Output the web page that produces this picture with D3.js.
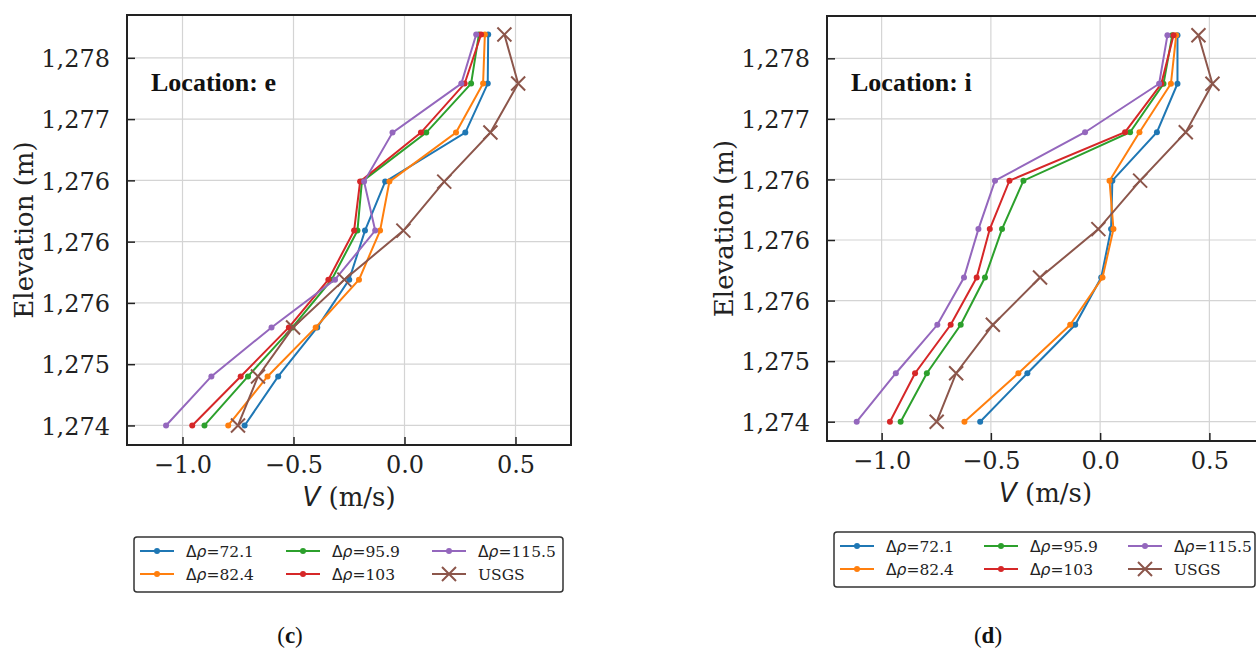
<!DOCTYPE html>
<html>
<head>
<meta charset="utf-8">
<script src="https://cdn.jsdelivr.net/npm/d3@7"></script>
<style>
  body { margin: 0; background: #fff; }
  svg { display: block; }
</style>
</head>
<body>
<script>
var width = 1256;
var height = 650;

// elevation of the sampled points (m), bottom to top
var elevations = [1274.5, 1274.9, 1275.3, 1275.69, 1276.09, 1276.49, 1276.89, 1277.29, 1277.69];

var seriesNames = ["72.1", "82.4", "95.9", "103", "115.5"];
var colors = ["#1f77b4", "#ff7f0e", "#2ca02c", "#d62728", "#9467bd"];
var usgsColor = "#8c564b";

// location e, V (m/s)
var e_dp721  = [-0.720, -0.569, -0.393, -0.249, -0.178, -0.087, 0.274, 0.375, 0.377];
var e_dp824  = [-0.794, -0.617, -0.400, -0.205, -0.110, -0.068, 0.232, 0.354, 0.362];
var e_dp959  = [-0.901, -0.705, -0.505, -0.328, -0.212, -0.192, 0.098, 0.300, 0.335];
var e_dp103  = [-0.956, -0.738, -0.521, -0.343, -0.227, -0.200, 0.074, 0.271, 0.345];
var e_dp1155 = [-1.074, -0.870, -0.599, -0.313, -0.132, -0.182, -0.054, 0.256, 0.323];
var e_usgs   = [-0.750, -0.660, -0.502, -0.271, -0.005, 0.179, 0.387, 0.512, 0.450];

// location i, V (m/s)
var i_dp721  = [-0.549, -0.333, -0.114, 0.005, 0.050, 0.056, 0.260, 0.354, 0.354];
var i_dp824  = [-0.621, -0.374, -0.137, 0.011, 0.061, 0.043, 0.180, 0.324, 0.348];
var i_dp959  = [-0.913, -0.793, -0.638, -0.527, -0.449, -0.351, 0.137, 0.290, 0.330];
var i_dp103  = [-0.962, -0.847, -0.684, -0.565, -0.505, -0.415, 0.114, 0.280, 0.336];
var i_dp1155 = [-1.114, -0.935, -0.745, -0.623, -0.557, -0.481, -0.069, 0.270, 0.308];
var i_usgs   = [-0.748, -0.659, -0.491, -0.275, -0.008, 0.183, 0.392, 0.514, 0.450];

var xTicks = [-1.0, -0.5, 0.0, 0.5];
var xTickLabels = ["\u22121.0", "\u22120.5", "0.0", "0.5"];
var yTicks = [1274.5, 1275.0, 1275.5, 1276.0, 1276.5, 1277.0, 1277.5];
var yTickLabels = ["1,274", "1,275", "1,276", "1,276", "1,276", "1,277", "1,278"];

var panels = [
  { caption: "c", location: "e", series: [e_dp721, e_dp824, e_dp959, e_dp103, e_dp1155], usgs: e_usgs,
    left: 127, top: 15, right: 571, bottom: 445,
    legend: { x: 134, y: 537, w: 429, h: 55, col: 146 }, capX: 290 },
  { caption: "d", location: "i", series: [i_dp721, i_dp824, i_dp959, i_dp103, i_dp1155], usgs: i_usgs,
    left: 827, top: 16, right: 1264, bottom: 441,
    legend: { x: 834, y: 532, w: 421, h: 55, col: 144 }, capX: 988 }
];

var serif = "'DejaVu Serif', serif";
var sans = "'DejaVu Sans', sans-serif";
var times = "'Liberation Serif', 'Times New Roman', serif";

var svg = d3.select("body")
  .append("svg")
  .attr("width", width)
  .attr("height", height);

var ext = d3.extent(elevations);
var pad = (ext[1] - ext[0]) * 0.05;

function xMark(g, x, y, s) {
  g.append("path")
    .attr("d", "M" + (x - s) + "," + (y - s) + "L" + (x + s) + "," + (y + s) +
               "M" + (x - s) + "," + (y + s) + "L" + (x + s) + "," + (y - s))
    .attr("stroke", usgsColor)
    .attr("stroke-width", 2)
    .attr("fill", "none");
}

panels.forEach(function(p) {
  var x = d3.scaleLinear().domain([-1.25, 0.75]).range([p.left, p.right]);
  var y = d3.scaleLinear().domain([ext[0] - pad, ext[1] + pad]).range([p.bottom, p.top]);
  var g = svg.append("g");

  // grid
  g.selectAll("line.gx").data(xTicks).enter().append("line")
    .attr("x1", function(d) { return x(d); }).attr("x2", function(d) { return x(d); })
    .attr("y1", p.top).attr("y2", p.bottom)
    .attr("stroke", "#d4d4d4").attr("stroke-width", 1.2);
  g.selectAll("line.gy").data(yTicks).enter().append("line")
    .attr("y1", function(d) { return y(d); }).attr("y2", function(d) { return y(d); })
    .attr("x1", p.left).attr("x2", p.right)
    .attr("stroke", "#d4d4d4").attr("stroke-width", 1.2);

  // axes, ticks pointing in
  var xAxis = d3.axisBottom(x).tickValues(xTicks).tickSize(-8).tickPadding(11)
    .tickFormat(function(d, i) { return xTickLabels[i]; });
  var yAxis = d3.axisLeft(y).tickValues(yTicks).tickSize(-8).tickPadding(17)
    .tickFormat(function(d, i) { return yTickLabels[i]; });

  var gx = g.append("g").attr("transform", "translate(0," + p.bottom + ")").call(xAxis);
  var gy = g.append("g").attr("transform", "translate(" + p.left + ",0)").call(yAxis);
  [gx, gy].forEach(function(a) {
    a.select(".domain").remove();
    a.selectAll(".tick line").attr("stroke", "#222").attr("stroke-width", 1.5);
    a.selectAll(".tick text").attr("font-family", serif).attr("font-size", 24).attr("fill", "#222");
  });
  gx.selectAll(".tick text").attr("dy", "0.71em");
  gy.selectAll(".tick text").attr("dy", "0.36em");

  // lines
  var line = d3.line()
    .x(function(d) { return x(d[0]); })
    .y(function(d) { return y(d[1]); });

  p.series.forEach(function(s, k) {
    var pts = s.map(function(v, j) { return [v, elevations[j]]; });
    g.append("path").datum(pts)
      .attr("d", line).attr("fill", "none")
      .attr("stroke", colors[k]).attr("stroke-width", 2);
    g.selectAll("circle.s" + k).data(pts).enter().append("circle")
      .attr("cx", function(d) { return x(d[0]); })
      .attr("cy", function(d) { return y(d[1]); })
      .attr("r", 3).attr("fill", colors[k]);
  });

  var usgsPts = p.usgs.map(function(v, j) { return [v, elevations[j]]; });
  g.append("path").datum(usgsPts)
    .attr("d", line).attr("fill", "none")
    .attr("stroke", usgsColor).attr("stroke-width", 2);
  usgsPts.forEach(function(d) { xMark(g, x(d[0]), y(d[1]), 7); });

  // frame
  g.append("rect")
    .attr("x", p.left).attr("y", p.top)
    .attr("width", p.right - p.left).attr("height", p.bottom - p.top)
    .attr("fill", "none").attr("stroke", "#222").attr("stroke-width", 2);

  // location tag
  g.append("text")
    .attr("x", p.left + 24).attr("y", 91)
    .attr("font-family", times).attr("font-weight", "bold").attr("font-size", 26)
    .attr("fill", "#111")
    .text("Location: " + p.location);

  // axis labels
  var xl = g.append("text")
    .attr("x", (p.left + p.right) / 2).attr("y", p.bottom + 61)
    .attr("text-anchor", "middle").attr("font-size", 26).attr("fill", "#222");
  xl.append("tspan").attr("font-family", sans).attr("font-style", "italic").text("V");
  xl.append("tspan").attr("font-family", serif).text(" (m/s)");

  g.append("text")
    .attr("transform", "translate(" + (p.left - 94) + "," + ((p.top + p.bottom) / 2) + ") rotate(-90)")
    .attr("text-anchor", "middle")
    .attr("font-family", serif).attr("font-size", 26).attr("fill", "#222")
    .text("Elevation (m)");

  // legend
  var L = p.legend;
  var lg = g.append("g");
  lg.append("rect")
    .attr("x", L.x).attr("y", L.y).attr("width", L.w).attr("height", L.h)
    .attr("rx", 3).attr("fill", "#fff").attr("stroke", "#333").attr("stroke-width", 1.5);

  var entries = seriesNames.map(function(n, k) { return { name: n, color: colors[k], usgs: false }; });
  entries.push({ name: "USGS", color: usgsColor, usgs: true });

  entries.forEach(function(e, k) {
    var col = Math.floor(k / 2), row = k % 2;
    var lx = L.x + 6 + col * L.col;
    var ly = L.y + 14 + row * 23;
    lg.append("line")
      .attr("x1", lx).attr("x2", lx + 34).attr("y1", ly).attr("y2", ly)
      .attr("stroke", e.color).attr("stroke-width", 2);
    if (e.usgs) {
      xMark(lg, lx + 17, ly, 7);
    } else {
      lg.append("circle").attr("cx", lx + 17).attr("cy", ly).attr("r", 3).attr("fill", e.color);
    }
    var t = lg.append("text")
      .attr("x", lx + 46).attr("y", ly + 5.5)
      .attr("font-size", 15.5).attr("fill", "#222");
    if (e.usgs) {
      t.attr("font-family", serif).text(e.name);
    } else {
      t.append("tspan").attr("font-family", sans).text("\u0394");
      t.append("tspan").attr("font-family", sans).attr("font-style", "italic").text("\u03c1");
      t.append("tspan").attr("font-family", serif).text("=" + e.name);
    }
  });

  // caption
  var cap = g.append("text")
    .attr("x", p.capX).attr("y", 643)
    .attr("text-anchor", "middle")
    .attr("font-family", times).attr("font-size", 23).attr("fill", "#111");
  cap.append("tspan").text("(");
  cap.append("tspan").attr("font-weight", "bold").text(p.caption);
  cap.append("tspan").text(")");
});
</script>
</body>
</html>
